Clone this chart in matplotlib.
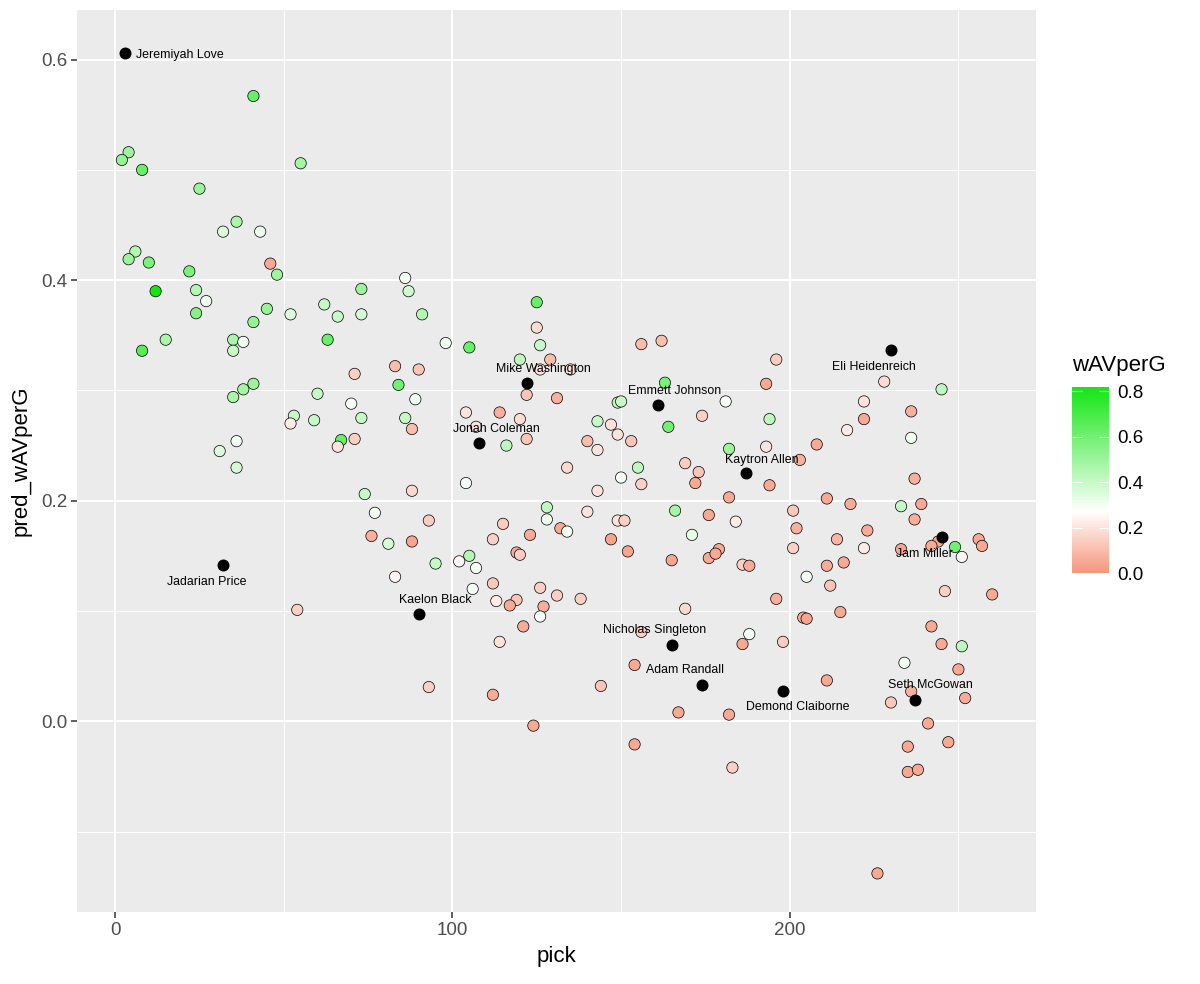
import numpy as np
import matplotlib.pyplot as plt
from matplotlib.colors import LinearSegmentedColormap, Normalize

plt.rcParams['font.family'] = ['Liberation Sans', 'DejaVu Sans']

# draft pick, predicted wAV per game, actual wAV per game
pick = [41, 4, 2, 8, 55, 25, 36, 32, 43, 6, 4, 10, 22, 46, 48, 12, 24, 27, 24, 45,
        41, 52, 62, 66, 73, 73, 86, 87, 15, 8, 35, 38, 35, 63, 83, 84, 71, 70, 60, 41,
        38, 35, 53, 52, 59, 73, 86, 67, 66, 71, 36, 31,
        36, 74, 77, 76, 81, 83, 54,
        125, 91, 125, 98, 105, 126, 120, 129, 126, 135, 90, 122, 131, 89, 88, 104, 114, 120, 122, 116,
        107, 104, 88, 134, 140, 143, 143, 147, 149, 149, 150, 153, 156, 162, 163, 164, 174, 181, 182, 169,
        173, 172, 155, 150, 156, 143, 182, 128, 128, 140, 93, 88, 95, 115, 112, 123, 132, 134, 149, 151,
        147, 152, 166, 176, 171, 165, 176, 179, 178, 119, 120, 105, 102, 107,
        106, 112, 113, 119, 117, 126, 131, 127, 126, 138, 121, 114, 169, 156, 154, 93, 112, 144, 167, 182,
        124, 154, 183,
        196, 193, 228, 245, 222, 222, 236, 194, 217, 236, 193, 208, 203, 194, 237, 211, 218, 233, 239, 237,
        201, 184, 202, 223, 214, 201, 222, 186, 188, 211, 216, 205, 244, 242, 233, 249, 251, 256, 257,
        212, 196, 246, 260, 204, 205, 215, 188, 186, 198, 242, 245, 251, 234, 250, 211, 236, 230, 252, 241,
        247, 235, 235, 238, 226]
pred = [0.567, 0.516, 0.509, 0.500, 0.506, 0.483, 0.453, 0.444, 0.444, 0.426, 0.419, 0.416, 0.408, 0.415, 0.405, 0.390, 0.391, 0.381, 0.370, 0.374,
        0.362, 0.369, 0.378, 0.367, 0.392, 0.369, 0.402, 0.390, 0.346, 0.336, 0.346, 0.344, 0.336, 0.346, 0.322, 0.305, 0.315, 0.288, 0.297, 0.306,
        0.301, 0.294, 0.277, 0.270, 0.273, 0.275, 0.275, 0.255, 0.249, 0.256, 0.254, 0.245,
        0.230, 0.206, 0.189, 0.168, 0.161, 0.131, 0.101,
        0.380, 0.369, 0.357, 0.343, 0.339, 0.341, 0.328, 0.328, 0.319, 0.319, 0.319, 0.296, 0.293, 0.292, 0.265, 0.280, 0.280, 0.274, 0.256, 0.250,
        0.267, 0.216, 0.209, 0.230, 0.254, 0.246, 0.272, 0.269, 0.260, 0.289, 0.290, 0.254, 0.342, 0.345, 0.307, 0.267, 0.277, 0.290, 0.247, 0.234,
        0.226, 0.216, 0.230, 0.221, 0.215, 0.209, 0.203, 0.194, 0.183, 0.190, 0.182, 0.163, 0.143, 0.179, 0.165, 0.169, 0.175, 0.172, 0.182, 0.182,
        0.165, 0.154, 0.191, 0.187, 0.169, 0.146, 0.148, 0.156, 0.152, 0.153, 0.151, 0.150, 0.145, 0.139,
        0.120, 0.125, 0.109, 0.110, 0.105, 0.121, 0.114, 0.104, 0.095, 0.111, 0.086, 0.072, 0.102, 0.081, 0.051, 0.031, 0.024, 0.032, 0.008, 0.006,
        -0.004, -0.021, -0.042,
        0.328, 0.306, 0.308, 0.301, 0.290, 0.274, 0.281, 0.274, 0.264, 0.257, 0.249, 0.251, 0.237, 0.214, 0.220, 0.202, 0.197, 0.195, 0.197, 0.183,
        0.191, 0.181, 0.175, 0.173, 0.165, 0.157, 0.157, 0.142, 0.141, 0.141, 0.144, 0.131, 0.163, 0.159, 0.156, 0.158, 0.149, 0.165, 0.159,
        0.123, 0.111, 0.118, 0.115, 0.094, 0.093, 0.099, 0.079, 0.070, 0.072, 0.086, 0.070, 0.068, 0.053, 0.047, 0.037, 0.027, 0.017, 0.021, -0.002,
        -0.019, -0.023, -0.046, -0.044, -0.138]
wav = [0.62, 0.50, 0.52, 0.62, 0.48, 0.50, 0.47, 0.36, 0.31, 0.45, 0.50, 0.58, 0.58, 0.05, 0.50, 0.82, 0.45, 0.30, 0.55, 0.52,
       0.52, 0.35, 0.40, 0.40, 0.50, 0.37, 0.30, 0.38, 0.47, 0.66, 0.47, 0.30, 0.40, 0.62, 0.10, 0.60, 0.15, 0.29, 0.40, 0.50,
       0.48, 0.47, 0.40, 0.22, 0.40, 0.40, 0.40, 0.62, 0.20, 0.15, 0.30, 0.35,
       0.37, 0.40, 0.30, 0.07, 0.37, 0.24, 0.15,
       0.62, 0.45, 0.18, 0.30, 0.62, 0.40, 0.42, 0.10, 0.20, 0.20, 0.12, 0.12, 0.07, 0.30, 0.10, 0.20, 0.07, 0.18, 0.12, 0.42,
       0.20, 0.30, 0.17, 0.17, 0.10, 0.20, 0.40, 0.20, 0.20, 0.42, 0.40, 0.12, 0.10, 0.10, 0.58, 0.60, 0.15, 0.29, 0.50, 0.14,
       0.12, 0.05, 0.42, 0.30, 0.15, 0.20, 0.05, 0.42, 0.31, 0.20, 0.14, 0.04, 0.40, 0.14, 0.15, 0.06, 0.05, 0.30, 0.20, 0.15,
       0.04, 0.04, 0.48, 0.05, 0.33, 0.04, 0.05, 0.05, 0.05, 0.06, 0.14, 0.45, 0.24, 0.30,
       0.30, 0.13, 0.22, 0.12, 0.05, 0.15, 0.15, 0.07, 0.29, 0.15, 0.06, 0.20, 0.17, 0.15, 0.05, 0.15, 0.06, 0.12, 0.05, 0.05,
       0.05, 0.05, 0.15,
       0.14, 0.05, 0.18, 0.42, 0.20, 0.05, 0.07, 0.42, 0.22, 0.30, 0.20, 0.05, 0.07, 0.05, 0.07, 0.05, 0.06, 0.40, 0.05, 0.07,
       0.13, 0.22, 0.07, 0.06, 0.08, 0.15, 0.22, 0.15, 0.06, 0.06, 0.05, 0.30, 0.05, 0.05, 0.04, 0.60, 0.24, 0.05, 0.05,
       0.12, 0.07, 0.15, 0.05, 0.06, 0.04, 0.05, 0.30, 0.05, 0.14, 0.05, 0.05, 0.42, 0.30, 0.05, 0.05, 0.07, 0.13, 0.06, 0.05,
       0.05, 0.05, 0.05, 0.05, 0.05]

# highlighted players (no wAV yet)
names = ["Jeremiyah Love", "Jadarian Price", "Kaelon Black", "Jonah Coleman", "Mike Washington",
         "Emmett Johnson", "Kaytron Allen", "Eli Heidenreich", "Jam Miller", "Nicholas Singleton",
         "Adam Randall", "Demond Claiborne", "Seth McGowan"]
name_pick = [3, 32, 90, 108, 122, 161, 187, 230, 245, 165, 174, 198, 237]
name_pred = [0.606, 0.142, 0.097, 0.252, 0.307, 0.287, 0.225, 0.337, 0.167, 0.069, 0.033, 0.027, 0.019]

# label offsets in pixels (dx, dy), screen up = positive
label_off = {"Jeremiyah Love": (11, -2, 'left'), "Jadarian Price": (-16, -17, 'center'),
             "Kaelon Black": (17, 14, 'center'), "Jonah Coleman": (17, 14, 'center'),
             "Mike Washington": (17, 14, 'center'), "Emmett Johnson": (16, 14, 'center'),
             "Kaytron Allen": (16, 13, 'center'), "Eli Heidenreich": (-17, -17, 'center'),
             "Jam Miller": (-17, -17, 'center'), "Nicholas Singleton": (-17, 15, 'center'),
             "Adam Randall": (-17, 15, 'center'), "Demond Claiborne": (15, -16, 'center'),
             "Seth McGowan": (16, 15, 'center')}

vmin, vmax, vmid = 0.0, 0.818, 0.27
cmap = LinearSegmentedColormap.from_list(
    "sal_grn", [(0.0, "#F6967C"), ((vmid - vmin) / (vmax - vmin), "#FFFFFF"), (1.0, "#14E614")])
norm = Normalize(vmin=vmin, vmax=vmax)

fig = plt.figure(figsize=(12, 9.84), dpi=100)
ax = fig.add_axes([77 / 1200, 1 - 912 / 984, 959 / 1200, 902 / 984])
ax.set_facecolor("#EBEBEB")

ax.set_xlim(-11.3, 273)
ax.set_ylim(-0.173, 0.645)
ax.set_xticks([0, 100, 200])
ax.set_yticks([0.0, 0.2, 0.4, 0.6])
ax.set_yticklabels(["0.0", "0.2", "0.4", "0.6"])
ax.set_xticks([50, 150, 250], minor=True)
ax.set_yticks([-0.1, 0.1, 0.3, 0.5], minor=True)
ax.grid(which='major', color='white', linewidth=1.5)
ax.grid(which='minor', color='white', linewidth=0.75)
ax.set_axisbelow(True)
for s in ax.spines.values():
    s.set_visible(False)
ax.tick_params(which='major', length=4, width=1.1, color='#333333', labelcolor='#4D4D4D',
               labelsize=13.5, pad=3)
ax.tick_params(which='minor', length=0)

sc = ax.scatter(pick, pred, c=wav, cmap=cmap, norm=norm, s=66, edgecolors='black',
                linewidths=0.5, zorder=3)
ax.scatter(name_pick, name_pred, color='black', s=58, zorder=4)

for n, x, y in zip(names, name_pick, name_pred):
    dx, dy, ha = label_off[n]
    ax.annotate(n, (x, y), xytext=(dx, dy), textcoords='offset pixels',
                ha=ha, va='center', fontsize=8.9, color='black', zorder=5)

ax.set_xlabel("pick", fontsize=16, labelpad=5)
ax.set_ylabel("pred_wAVperG", fontsize=16, labelpad=7)

cax = fig.add_axes([1072 / 1200, 1 - 573 / 984, 37 / 1200, 186 / 984])
cb = fig.colorbar(sc, cax=cax)
cb.outline.set_visible(False)
cb.set_ticks([0.0, 0.2, 0.4, 0.6, 0.8])
cb.set_ticklabels(["0.0", "0.2", "0.4", "0.6", "0.8"])
cax.tick_params(direction='in', left=True, right=True, length=7, width=0.8, color='white',
                labelcolor='black', labelsize=13.5, pad=6)
fig.text(1072 / 1200, 1 - 366 / 984, "wAVperG", fontsize=16, va='center', ha='left')

fig.savefig("out.png", dpi=100)
